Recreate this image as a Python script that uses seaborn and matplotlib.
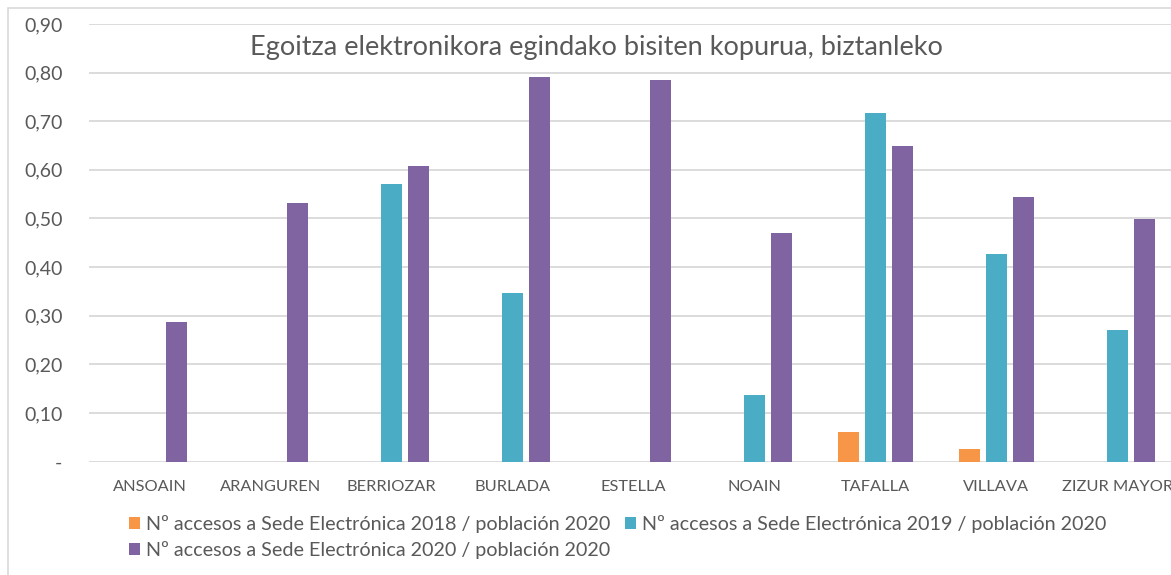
import pandas as pd
import numpy as np
import matplotlib
matplotlib.use('Agg')
import matplotlib.pyplot as plt
import seaborn as sns
from matplotlib.ticker import FuncFormatter
from matplotlib.patches import Rectangle

towns = ['ANSOAIN', 'ARANGUREN', 'BERRIOZAR', 'BURLADA', 'ESTELLA',
         'NOAIN', 'TAFALLA', 'VILLAVA', 'ZIZUR MAYOR']
v2018 = [np.nan, np.nan, np.nan, np.nan, np.nan, np.nan, 0.061, 0.026, np.nan]
v2019 = [np.nan, np.nan, 0.570, 0.346, np.nan, 0.136, 0.716, 0.427, 0.270]
v2020 = [0.287, 0.532, 0.607, 0.790, 0.785, 0.471, 0.648, 0.545, 0.499]
series = ['Nº accesos a Sede Electrónica 2018 / población 2020',
          'Nº accesos a Sede Electrónica 2019 / población 2020',
          'Nº accesos a Sede Electrónica 2020 / población 2020']
colors = ['#F79646', '#4BACC6', '#8064A2']
title = 'Egoitza elektronikora egindako bisiten kopurua, biztanleko'

df = pd.DataFrame({'town': towns * 3,
                   'serie': np.repeat(series, len(towns)),
                   'value': v2018 + v2019 + v2020}).dropna()

sns.set_style('white')
plt.rcParams['font.family'] = ['Lato', 'DejaVu Sans']
txt = '#595959'

fig = plt.figure(figsize=(11.71, 5.75), dpi=100)
ax = fig.add_axes([89 / 1171, 113.5 / 575, 1089 / 1171, 437.5 / 575])

sns.barplot(data=df, x='town', y='value', hue='serie', order=towns,
            hue_order=series, palette=colors, width=0.673, gap=0.22,
            saturation=1, ax=ax, linewidth=0)

ax.set_ylim(0, 0.9)
ax.set_yticks(np.arange(0, 0.91, 0.1))
ax.yaxis.set_major_formatter(FuncFormatter(
    lambda v, p: '-' if abs(v) < 1e-9 else f'{v:.2f}'.replace('.', ',')))
ax.grid(axis='y', color='#d9d9d9', linewidth=1.3)
ax.set_axisbelow(True)
for s in ax.spines.values():
    s.set_visible(False)
ax.tick_params(axis='y', length=0, pad=19, labelsize=14, labelcolor=txt)
ax.tick_params(axis='x', length=0, pad=13, labelsize=11.8, labelcolor=txt)
ax.set_xlabel('')
ax.set_ylabel('')

fig.text(596 / 1171, 1 - 48 / 575, title, ha='center', va='center',
         fontsize=19.5, color=txt)

# reorder so that matplotlib's column filling gives 2018 | 2019 on row one
h, l = ax.get_legend_handles_labels()
order = [0, 2, 1]
ax.legend([h[i] for i in order], [l[i] for i in order],
          loc='upper left', bbox_to_anchor=(129 / 1171, 1 - 515 / 575),
          bbox_transform=fig.transFigure, ncol=2, frameon=False,
          fontsize=14.2, labelcolor=txt, handlelength=0.55, handleheight=0.55,
          handletextpad=0.3, columnspacing=0.75, labelspacing=0.4,
          borderpad=0, borderaxespad=0)

fig.patches.append(Rectangle((8 / 1171, -0.1), 1.2, 1 - 8 / 575 + 0.1,
                             transform=fig.transFigure, fill=False,
                             edgecolor='#d9d9d9', linewidth=1.2))

fig.savefig('out.png', dpi=100)
